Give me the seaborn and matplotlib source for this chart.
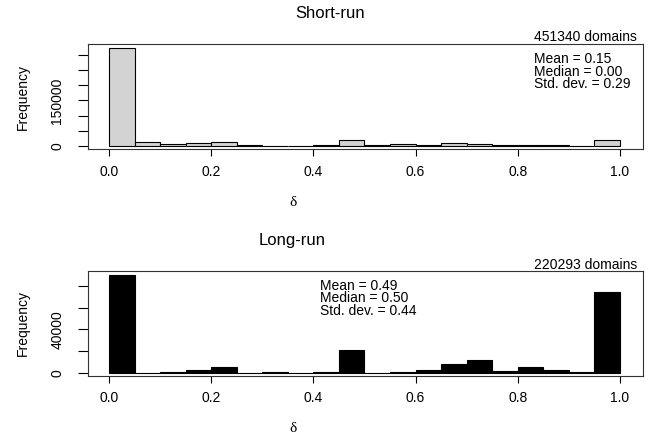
import numpy as np
import pandas as pd
import matplotlib
matplotlib.use("Agg")
import matplotlib.pyplot as plt
import seaborn as sns

# Histogram data (bin width 0.05)
bin_mid = [0.025, 0.075, 0.125, 0.175, 0.225, 0.275, 0.325, 0.375, 0.425, 0.475,
           0.525, 0.575, 0.625, 0.675, 0.725, 0.775, 0.825, 0.875, 0.925, 0.975]
short_counts = [322000, 12000, 5500, 8800, 12000, 2000, 1500, 1500, 3000, 19700,
                3000, 6500, 4400, 8800, 7700, 3000, 3000, 4000, 1000, 19700]
long_counts = [90000, 150, 600, 2100, 5200, 150, 600, 150, 600, 20600,
               150, 600, 2100, 8000, 12000, 1800, 5200, 2500, 600, 74100]

panels = [
    {"title": "Short-run", "counts": short_counts, "color": "#d3d3d3",
     "domains": "451340 domains", "stats": ["Mean = 0.15", "Median = 0.00", "Std. dev. = 0.29"],
     "yticks": [0, 50000, 100000, 150000, 200000, 250000, 300000], "ylabels": {0: "0", 150000: "150000"},
     "ylim": (-10900, 335500)},
    {"title": "Long-run", "counts": long_counts, "color": "black",
     "domains": "220293 domains", "stats": ["Mean = 0.49", "Median = 0.50", "Std. dev. = 0.44"],
     "yticks": [0, 20000, 40000, 60000, 80000], "ylabels": {0: "0", 40000: "40000"},
     "ylim": (-3040, 94000)},
]

sns.set_style("white")
plt.rcParams["font.family"] = ["Liberation Sans", "DejaVu Sans"]
plt.rcParams["text.color"] = "black"
plt.rcParams["xtick.labelcolor"] = "black"
plt.rcParams["ytick.labelcolor"] = "black"

W, H = 649, 441
fig = plt.figure(figsize=(W / 100, H / 100), dpi=100)

def px(x, y):
    return x / W, 1 - y / H

# pixel layout of the two plot boxes: (top, bottom)
boxes = [(44, 149.3), (270.7, 376)]
title_pos = [(330, 14), (292, 240)]
dom_pos = [(637, 37), (637, 265)]
stats_pos = [(534, 59), (320, 286)]
delta_pos = [(293, 202), (293, 428)]
freq_y = [97, 323]

edges = list(np.linspace(0, 1, 21))
for i, p in enumerate(panels):
    top, bot = boxes[i]
    ax = fig.add_axes([88 / W, 1 - bot / H, (643 - 88) / W, (bot - top) / H])
    df = pd.DataFrame({"delta": bin_mid, "count": p["counts"]})
    sns.histplot(data=df, x="delta", weights="count", bins=edges, color=p["color"],
                 edgecolor="black", linewidth=0.8, alpha=1, ax=ax)
    ax.set_xlim(-0.041, 1.045)
    ax.set_ylim(*p["ylim"])
    ax.set_xticks([0, 0.2, 0.4, 0.6, 0.8, 1.0])
    ax.set_xticklabels(["0.0", "0.2", "0.4", "0.6", "0.8", "1.0"], fontsize=10)
    ax.set_yticks(p["yticks"])
    ax.set_yticklabels([p["ylabels"].get(t, "") for t in p["yticks"]], fontsize=10,
                       rotation=90, va="center")
    ax.tick_params(axis="x", bottom=True, direction="out", length=5, width=0.8,
                   pad=6, color="black")
    ax.tick_params(axis="y", left=True, direction="out", length=7, width=0.8,
                   pad=10, color="black")
    for s in ax.spines.values():
        s.set_visible(True)
        s.set_color("#333333")
        s.set_linewidth(0.8)
    ax.set_xlabel("")
    ax.set_ylabel("")

    fig.text(*px(*title_pos[i]), p["title"], ha="center", va="center", fontsize=12)
    fig.text(*px(*dom_pos[i]), p["domains"], ha="right", va="center", fontsize=10)
    sx, sy = stats_pos[i]
    for k, line in enumerate(p["stats"]):
        fig.text(*px(sx, sy + 12.5 * k), line, ha="left", va="center", fontsize=10)
    fig.text(*px(*delta_pos[i]), "δ", ha="center", va="center", fontsize=11,
             family=["Liberation Serif", "DejaVu Serif"])
    fig.text(*px(23, freq_y[i]), "Frequency", ha="center", va="center",
             fontsize=10, rotation=90)

fig.savefig("out.png", dpi=100)
